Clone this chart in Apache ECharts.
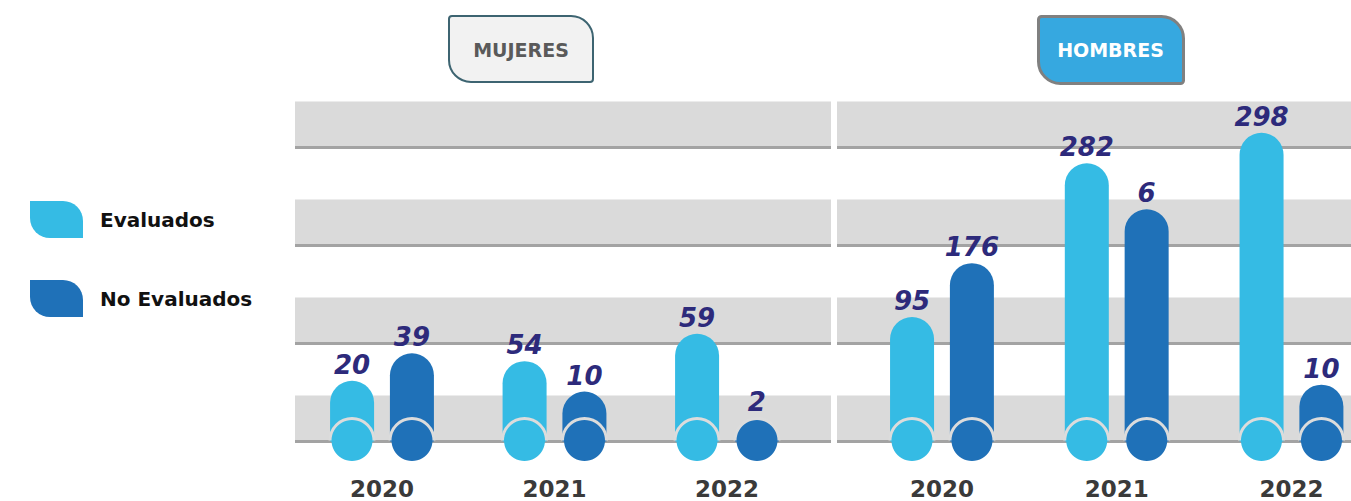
<!DOCTYPE html>
<html>
<head>
<meta charset="utf-8">
<title>Evaluados / No Evaluados</title>
<script src="https://cdn.jsdelivr.net/npm/echarts@6/dist/echarts.min.js"></script>
<style>
  html, body { margin: 0; padding: 0; background: #fff; }
  #main { width: 1351px; height: 501px; }
</style>
</head>
<body>
<div id="main"></div>
<script>
/* Evaluados vs No Evaluados, Mujeres / Hombres 2020-2022 */

var years = ['2020', '2021', '2022'];

// valores rotulados sobre cada barra
var mujeresEvaluados = [20, 54, 59];
var mujeresNoEvaluados = [39, 10, 2];
var hombresEvaluados = [95, 282, 298];
var hombresNoEvaluados = [176, 6, 10];

// altura dibujada de cada barra (en franjas del fondo); la infografia original no es proporcional
var mujeresEvalAltura = [0.62, 0.82, 1.10];
var mujeresNoEvalAltura = [0.90, 0.51, 0.24];
var hombresEvalAltura = [1.27, 2.84, 3.15];
var hombresNoEvalAltura = [1.82, 2.37, 0.58];

// base de las barras (donde va el circulo)
var base = [0, 0, 0];

// franjas grises del fondo y lineas
var franjas = [0, 1, 2, 3];
var altoFranja = 0.47;

var colorEval = '#35bbe4';
var colorNoEval = '#1f71b8';
var colorValor = '#2d2a7b';
var fuente = 'DejaVu Sans';

var yMax = 3.47;
var gridTop = 101.5;
var gridBottom = 59.5;

var chart = echarts.init(document.getElementById('main'), null, { renderer: 'svg' });

function fondo(idx) {
    return {
        type: 'line',
        xAxisIndex: idx,
        yAxisIndex: idx,
        data: [],
        silent: true,
        z: 1,
        markArea: {
            silent: true,
            z: 1,
            itemStyle: { color: '#dadada' },
            data: franjas.map(function (k) {
                return [{ yAxis: k }, { yAxis: k + altoFranja }];
            })
        },
        markLine: {
            silent: true,
            z: 1,
            symbol: ['none', 'none'],
            label: { show: false },
            lineStyle: { color: '#a3a3a3', width: 3, type: 'solid' },
            data: franjas.map(function (k) { return { yAxis: k }; })
        }
    };
}

function barras(nombre, idx, alturas, valores, color) {
    return {
        type: 'bar',
        name: nombre,
        xAxisIndex: idx,
        yAxisIndex: idx,
        data: alturas,
        barWidth: 44,
        barGap: '36%',
        z: 2,
        itemStyle: { color: color, borderRadius: [22, 22, 0, 0] },
        label: {
            show: true,
            position: 'top',
            distance: 3,
            fontFamily: fuente,
            fontSize: 26,
            fontWeight: 'bold',
            fontStyle: 'italic',
            color: colorValor,
            formatter: function (p) { return valores[p.dataIndex]; }
        }
    };
}

// anillo gris (media luna superior) + circulo del pie de cada barra
function anillo(idx, dx) {
    return {
        type: 'scatter',
        xAxisIndex: idx,
        yAxisIndex: idx,
        data: base,
        symbol: 'path://M0,10 A10,10 0 0 1 20,10 Z',
        symbolSize: [47, 23.5],
        symbolOffset: [dx, -12.75],
        itemStyle: { color: '#dcdcdc', opacity: 1 },
        silent: true,
        z: 3
    };
}

function circulo(idx, dx, color) {
    return {
        type: 'scatter',
        xAxisIndex: idx,
        yAxisIndex: idx,
        data: base,
        symbol: 'circle',
        symbolSize: 41,
        symbolOffset: [dx, -1],
        itemStyle: { color: color, opacity: 1 },
        silent: true,
        z: 4
    };
}

function ejeCategorias(idx) {
    return {
        type: 'category',
        gridIndex: idx,
        data: years,
        axisLine: { show: false },
        axisTick: { show: false },
        axisLabel: {
            margin: 36,
            lineHeight: 22,
            fontFamily: fuente,
            fontSize: 23,
            fontWeight: 'bold',
            color: '#3a3a3a'
        }
    };
}

function ejeFondoX(idx) {
    return { type: 'value', gridIndex: idx, min: 0, max: 1, show: false };
}

function ejeY(idx) {
    return { type: 'value', gridIndex: idx, min: 0, max: yMax, show: false, splitLine: { show: false } };
}

var option = {
    animation: false,
    backgroundColor: '#fff',
    grid: [
        { left: 295, width: 536, top: gridTop, bottom: gridBottom, outerBoundsMode: 'none' },   // fondo mujeres
        { left: 837, width: 514, top: gridTop, bottom: gridBottom, outerBoundsMode: 'none' },   // fondo hombres
        { left: 295.75, width: 517.5, top: gridTop, bottom: gridBottom, outerBoundsMode: 'none' }, // barras mujeres
        { left: 854.6, width: 524.25, top: gridTop, bottom: gridBottom, outerBoundsMode: 'none' }  // barras hombres
    ],
    xAxis: [ejeFondoX(0), ejeFondoX(1), ejeCategorias(2), ejeCategorias(3)],
    yAxis: [ejeY(0), ejeY(1), ejeY(2), ejeY(3)],
    legend: {
        orient: 'vertical',
        left: 25,
        top: 196,
        itemWidth: 53,
        itemHeight: 37,
        itemGap: 42,
        selectedMode: false,
        icon: 'path://M0,0 L33,0 A20,20 0 0 1 53,20 L53,37 L20,37 A20,20 0 0 1 0,17 Z',
        textStyle: {
            fontFamily: fuente,
            fontSize: 20,
            fontWeight: 'bold',
            color: '#111',
            padding: [0, 0, 0, 12]
        },
        data: ['Evaluados', 'No Evaluados']
    },
    graphic: [
        {
            type: 'group',
            left: 448,
            top: 15,
            children: [
                {
                    type: 'rect',
                    shape: { x: 0, y: 0, width: 144, height: 66, r: [3, 22, 3, 22] },
                    style: { fill: '#f2f2f2', stroke: '#3d6471', lineWidth: 2 }
                },
                {
                    type: 'text',
                    x: 72,
                    y: 34,
                    style: {
                        text: 'MUJERES',
                        fill: '#5a5a5a',
                        font: 'bold 19px "DejaVu Sans"',
                        align: 'center',
                        verticalAlign: 'middle'
                    }
                }
            ]
        },
        {
            type: 'group',
            left: 1037,
            top: 15,
            children: [
                {
                    type: 'rect',
                    shape: { x: 0, y: 0, width: 145, height: 67, r: [3, 22, 3, 22] },
                    style: { fill: '#36a8e0', stroke: '#808080', lineWidth: 3 }
                },
                {
                    type: 'text',
                    x: 72,
                    y: 33,
                    style: {
                        text: 'HOMBRES',
                        fill: '#ffffff',
                        font: 'bold 19px "DejaVu Sans"',
                        align: 'center',
                        verticalAlign: 'middle'
                    }
                }
            ]
        }
    ],
    series: [
        fondo(0),
        fondo(1),
        barras('Evaluados', 2, mujeresEvalAltura, mujeresEvaluados, colorEval),
        barras('No Evaluados', 2, mujeresNoEvalAltura, mujeresNoEvaluados, colorNoEval),
        barras('Evaluados', 3, hombresEvalAltura, hombresEvaluados, colorEval),
        barras('No Evaluados', 3, hombresNoEvalAltura, hombresNoEvaluados, colorNoEval),
        anillo(2, -30), anillo(2, 30), anillo(3, -30), anillo(3, 30),
        circulo(2, -30, colorEval), circulo(2, 30, colorNoEval),
        circulo(3, -30, colorEval), circulo(3, 30, colorNoEval)
    ]
};

chart.setOption(option);
</script>
</body>
</html>
